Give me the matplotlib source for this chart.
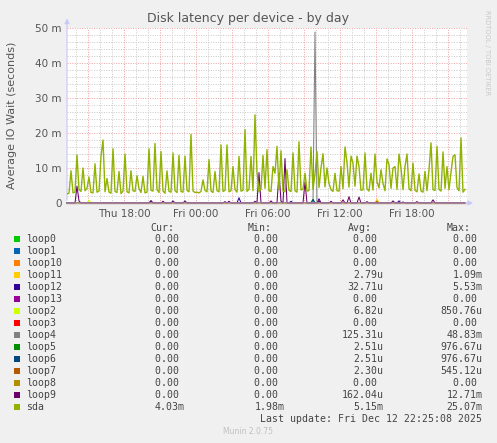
import numpy as np
import matplotlib
matplotlib.use("Agg")
import matplotlib.pyplot as plt
from matplotlib.patches import Rectangle

# sample i is at Thu 13:15 + i*10min (hours since Thu 00:00)
t0 = 13.25
step = 1 / 6.0

# sda latency, in milliseconds
sda = [
    2.6, 2.8, 9.2, 2.9, 3.1, 13.7, 3.8, 3.3, 10.0, 3.5, 4.2, 7.4, 3.0, 2.9, 11.2, 3.1, 3.4, 13.3, 18.0, 3.2,
    7.0, 3.1, 2.8, 15.5, 3.3, 3.0, 9.0, 2.7, 3.4, 14.0, 3.2, 2.9, 9.2, 3.5, 3.3, 7.8, 4.1, 3.0, 7.6, 2.9,
    3.1, 15.5, 3.6, 3.4, 17.0, 3.8, 3.0, 14.7, 3.4, 2.8, 9.2, 3.3, 3.1, 14.3, 3.5, 3.0, 13.6, 3.3, 3.1, 13.4,
    3.6, 3.2, 19.6, 3.4, 3.0, 3.1, 2.9, 3.3, 6.6, 3.6, 3.2, 12.4, 3.4, 3.0, 9.0, 3.5, 3.2, 16.6, 3.3, 3.6,
    16.6, 3.2, 3.5, 10.4, 3.8, 3.1, 13.3, 3.4, 3.6, 21.0, 3.3, 3.9, 13.3, 3.5, 25.2, 8.8, 3.2, 4.0, 13.6, 4.2,
    15.2, 3.5, 3.3, 10.4, 8.5, 16.2, 3.8, 14.9, 3.4, 3.2, 9.5, 3.6, 3.3, 14.3, 3.5, 3.1, 17.5, 3.7, 4.0, 8.5,
    3.4, 3.6, 16.0, 3.9, 8.3, 14.7, 4.4, 10.0, 14.1, 4.6, 10.0, 5.6, 3.8, 3.3, 8.5, 3.5, 3.4, 10.4, 4.1, 16.0,
    11.6, 4.5, 13.4, 11.4, 4.8, 13.4, 10.4, 3.6, 3.8, 14.3, 4.0, 3.4, 8.5, 3.7, 14.0, 6.1, 4.3, 9.5, 5.6, 3.5,
    12.6, 11.0, 4.2, 10.0, 10.4, 3.9, 14.0, 10.0, 3.8, 10.4, 14.0, 4.1, 3.5, 11.4, 3.6, 3.2, 8.3, 3.4, 3.1, 9.0,
    3.5, 9.5, 17.2, 3.8, 3.6, 16.2, 3.9, 3.4, 14.6, 4.2, 10.4, 3.8, 8.8, 13.3, 13.8, 4.4, 3.5, 18.6, 3.1, 3.9,
]

# loop devices: mostly zero, a few spikes (sample index, ms)
loop9_idx = [5, 6, 42, 48, 53, 59, 79, 81, 94, 96, 102, 106, 107, 109, 119, 126, 132, 138, 141, 146, 150, 163, 168, 175, 183]
loop9_val = [4.8, 0.6, 0.7, 0.5, 0.6, 0.6, 0.4, 0.5, 0.5, 8.7, 0.6, 8.6, 0.5, 12.71, 6.0, 0.6, 0.5, 0.9, 1.8, 1.7, 0.4, 0.6, 0.3, 0.4, 0.9]
loop12_idx = [42, 86, 112, 126, 166]
loop12_val = [0.5, 1.5, 0.5, 1.2, 0.6]
loop2_idx, loop2_val = [11], [0.85]
loop11_idx, loop11_val = [155], [1.09]
loop4_idx, loop4_val = [124], [48.83]
loop5_idx, loop5_val = [123], [0.98]
loop6_idx, loop6_val = [123], [0.98]
loop7_idx, loop7_val = [126, 155], [0.55, 0.5]

names = ["loop0", "loop1", "loop10", "loop11", "loop12", "loop13", "loop2", "loop3",
         "loop4", "loop5", "loop6", "loop7", "loop8", "loop9", "sda"]
colors = ["#00CC00", "#0066B3", "#FF8000", "#FFCC00", "#330099", "#990099", "#CCFF00", "#FF0000",
          "#808080", "#008F00", "#00487D", "#B35A00", "#B38F00", "#6B006B", "#8FB300"]
cur = ["0.00 "] * 14 + ["4.03m"]
mins = ["0.00 "] * 14 + ["1.98m"]
avgs = ["0.00 ", "0.00 ", "0.00 ", "2.79u", "32.71u", "0.00 ", "6.82u", "0.00 ",
        "125.31u", "2.51u", "2.51u", "2.30u", "0.00 ", "162.04u", "5.15m"]
maxs = ["0.00 ", "0.00 ", "0.00 ", "1.09m", "5.53m", "0.00 ", "850.76u", "0.00 ",
        "48.83m", "976.67u", "976.67u", "545.12u", "0.00 ", "12.71m", "25.07m"]

n = len(sda)
t = t0 + np.arange(n) * step

spikes = {
    "loop2": (loop2_idx, loop2_val), "loop4": (loop4_idx, loop4_val),
    "loop5": (loop5_idx, loop5_val), "loop6": (loop6_idx, loop6_val),
    "loop7": (loop7_idx, loop7_val), "loop9": (loop9_idx, loop9_val),
    "loop11": (loop11_idx, loop11_val), "loop12": (loop12_idx, loop12_val),
}

W, H = 497, 443
fig = plt.figure(figsize=(W / 100, H / 100), dpi=100, facecolor="#F0F0F0")
L, R, T, B = 67, 467, 28, 203
ax = fig.add_axes([L / W, 1 - B / H, (R - L) / W, (B - T) / H], facecolor="white")

xmax = t0 + (R - L) / 12.0
ax.set_xlim(t0, xmax)
ax.set_ylim(0, 50)

# grid
for h in range(14, 47):
    if h % 3 == 0:
        ax.axvline(h, color="#F0A0A0", lw=0.7, ls=(0, (1, 1.5)), zorder=1)
    else:
        ax.axvline(h, color="#C8C8C8", lw=0.7, ls=(0, (1, 1.5)), zorder=0.5)
for v in range(2, 51, 2):
    if v % 10 == 0:
        ax.axhline(v, color="#F0A0A0", lw=0.7, ls=(0, (1, 1.5)), zorder=1)
    else:
        ax.axhline(v, color="#C8C8C8", lw=0.7, ls=(0, (1, 1.5)), zorder=0.5)

for name, c in zip(names, colors):
    if name == "sda":
        y = np.array(sda)
        ax.plot(t, y, color=c, lw=1.0, zorder=3)
    else:
        y = np.zeros(n)
        if name in spikes:
            idx, val = spikes[name]
            y[idx] = val
        ax.plot(t, y, color=c, lw=0.75, zorder=3, clip_on=False)

for s in ax.spines.values():
    s.set_visible(False)

# axis arrows
ax.annotate("", xy=(0, 1.07), xytext=(0, 0), xycoords="axes fraction",
            arrowprops=dict(arrowstyle="-|>", color="#C8C8F8", lw=0.8, mutation_scale=7), zorder=2)
ax.plot([t0, xmax], [0, 0], color="#C8C8F8", lw=1.3, alpha=0.5, zorder=4, clip_on=False)
ax.annotate("", xy=(1.022, 0), xytext=(0.99, 0), xycoords="axes fraction",
            arrowprops=dict(arrowstyle="-|>", color="#C8C8F8", lw=0.8, mutation_scale=7), zorder=4)

ax.set_xticks([18, 24, 30, 36, 42])
ax.set_xticklabels(["Thu 18:00", "Fri 00:00", "Fri 06:00", "Fri 12:00", "Fri 18:00"])
ax.set_yticks([0, 10, 20, 30, 40, 50])
ax.set_yticklabels(["0", "10 m", "20 m", "30 m", "40 m", "50 m"])
ax.tick_params(length=0, labelsize=7.5, colors="#555555", pad=4)
ax.set_ylabel("Average IO Wait (seconds)", fontsize=8, color="#555555", labelpad=13)

fig.text(248 / W, 1 - 18.5 / H, "Disk latency per device - by day", ha="center", va="center",
         fontsize=9, color="#555555")
fig.text(487 / W, 1 - 53 / H, "RRDTOOL / TOBI OETIKER", rotation=-90, ha="center", va="center",
         fontsize=4.8, color="#C8C8C8")

# legend table
mono = dict(family="DejaVu Sans Mono", fontsize=7.1, color="#444444")
def px(x, y):
    return x / W, 1 - y / H

hy = 228.3
for lbl, x in zip(["Cur:", "Min:", "Avg:", "Max:"], [150, 248, 348, 447]):
    fig.text(*px(x, hy), lbl, ha="left", va="center", **mono)

row0, dy = 239.3, 12.0
right_edges = [185, 284.3, 383.3, 482.7]
for i, name in enumerate(names):
    y = row0 + i * dy
    fig.add_artist(Rectangle(px(14, y + 3), 6 / W, 6 / H, transform=fig.transFigure,
                             facecolor=colors[i], edgecolor="none"))
    fig.text(*px(26.5, y), name, ha="left", va="center", **mono)
    for col, xr in zip([cur, mins, avgs, maxs], right_edges):
        fig.text(*px(xr, y), col[i], ha="right", va="center", **mono)

fig.text(*px(482.5, 419.3), "Last update: Fri Dec 12 22:25:08 2025", ha="right", va="center", **mono)
fig.text(*px(248, 432), "Munin 2.0.75", ha="center", va="center", fontsize=5.5, color="#C0C0C0")

fig.savefig("out.png", dpi=100, facecolor=fig.get_facecolor())
